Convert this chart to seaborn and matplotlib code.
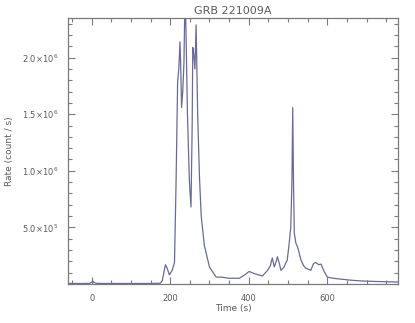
import pandas as pd
import matplotlib
matplotlib.use('Agg')
import matplotlib.pyplot as plt
from matplotlib.ticker import MultipleLocator
import seaborn as sns

# light curve (time in s, rate in count/s)
time = [-60, -20, -5, 0, 3, 6, 10, 15, 30, 60,
        100, 150, 175, 180, 185, 188, 192, 198, 205, 211,
        215, 219, 222, 225, 227, 229, 232, 235, 238, 240.5,
        244, 249, 253, 256, 257.5, 260, 263, 266, 270, 274.5,
        279, 287, 300, 317, 330, 350, 376, 390, 401, 415,
        435, 448, 455, 460, 465, 470, 473, 478, 482, 490,
        495, 498, 503, 507, 510, 512, 514, 516, 520, 524,
        528, 533, 540, 545, 558, 565, 571, 578, 584, 592,
        600, 615, 630, 660, 689, 720, 750, 780]
rate = [4e3, 4e3, 5e3, 1.5e4, 2.5e4, 1.2e4, 7e3, 5e3, 4e3, 4e3,
        4e3, 4e3, 6e3, 3e4, 1.2e5, 1.7e5, 1.4e5, 8e4, 1.2e5, 1.9e5,
        9e5, 1.79e6, 1.9e6, 2.14e6, 1.9e6, 1.56e6, 1.7e6, 1.95e6, 2.6e6, 2.18e6,
        1.5e6, 9e5, 6.8e5, 1.4e6, 2.09e6, 2.03e6, 1.9e6, 2.29e6, 1.5e6, 9.5e5,
        6e5, 3.4e5, 1.5e5, 6e4, 6e4, 5e4, 5e4, 8e4, 1.1e5, 9e4,
        7e4, 1.2e5, 1.6e5, 2.3e5, 1.5e5, 2.0e5, 2.4e5, 1.8e5, 1.2e5, 1.5e5,
        1.9e5, 2.1e5, 3.6e5, 5e5, 9e5, 1.56e6, 9e5, 4.5e5, 3.6e5, 3.3e5,
        2.8e5, 2.1e5, 1.6e5, 1.4e5, 1.2e5, 1.8e5, 1.9e5, 1.7e5, 1.75e5, 1.1e5,
        6e4, 5e4, 4.4e4, 3.3e4, 2.6e4, 2.2e4, 1.9e4, 1.7e4]

ytick_vals = [5e5, 1e6, 1.5e6, 2e6]
ytick_labels = [r'5.0$\times$10$^5$', r'1.0$\times$10$^6$',
                r'1.5$\times$10$^6$', r'2.0$\times$10$^6$']
xtick_vals = [0, 200, 400, 600]

df = pd.DataFrame({'time': time, 'rate': rate})

sns.set_style('ticks')
plt.rcParams['font.family'] = ['DejaVu Sans']
gray = '#7a7a7a'
txt = '#5a5a5a'

fig = plt.figure(figsize=(4.15, 3.23), dpi=100)
ax = fig.add_axes([0.164, 0.121, 0.795, 0.823])

sns.lineplot(data=df, x='time', y='rate', ax=ax, estimator=None,
             color='#6a6a98', linewidth=0.9)

ax.set_xlim(-60, 780)
ax.set_ylim(0, 2.35e6)
ax.set_xticks(xtick_vals)
ax.set_xticklabels([str(v) for v in xtick_vals])
ax.set_yticks(ytick_vals)
ax.set_yticklabels(ytick_labels)
ax.xaxis.set_minor_locator(MultipleLocator(50))
ax.yaxis.set_minor_locator(MultipleLocator(1e5))

ax.tick_params(which='both', direction='in', top=True, right=True,
               color=gray, labelcolor=txt, labelsize=6, width=0.8)
ax.tick_params(which='major', length=5, pad=7)
ax.tick_params(which='minor', length=3)
for s in ax.spines.values():
    s.set_color(gray)
    s.set_linewidth(0.9)

ax.set_xlabel('Time (s)', fontsize=6.5, color=txt, labelpad=1)
ax.set_ylabel('Rate (count / s)', fontsize=6.5, color=txt, labelpad=6)
ax.set_title('GRB 221009A', fontsize=8, color=txt, pad=3)

fig.savefig('out.png', dpi=100)
